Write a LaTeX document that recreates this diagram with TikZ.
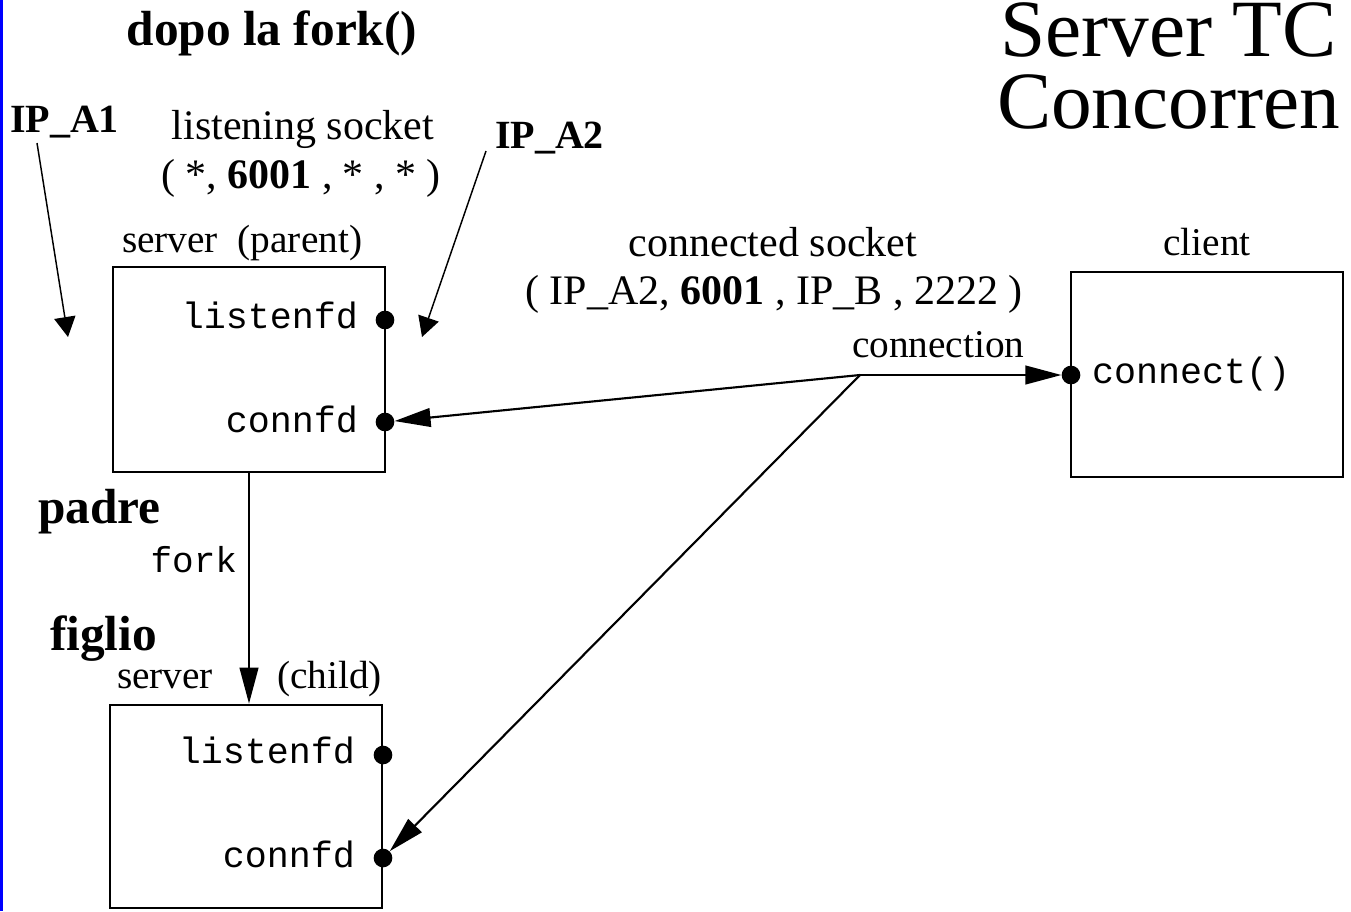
\documentclass[tikz,border=0pt]{standalone}
\usepackage{fontspec}
\setmainfont{Liberation Serif}
\setmonofont{Liberation Mono}
\usetikzlibrary{arrows.meta}

\newcommand{\fsz}[1]{\fontsize{#1}{#1}\selectfont}

\tikzset{
  txt/.style={inner sep=0pt, outer sep=0pt},
  title/.style={txt, anchor=base west, font=\fsz{61pt}},
  heading/.style={txt, font=\fsz{37pt}\bfseries},
  iplabel/.style={txt, anchor=base west, font=\fsz{30pt}\bfseries},
  sock/.style={txt, anchor=base, font=\fsz{31.5pt}},
  proc/.style={txt, font=\fsz{29.5pt}},
  code/.style={txt, anchor=base east, font=\fsz{27.5pt}\ttfamily},
  procbox/.style={draw, line width=2pt, minimum width=204pt, minimum height=153.75pt, inner sep=0pt},
  fd/.style={circle, fill=black, inner sep=0pt, minimum size=14pt},
  bigtip/.style={line width=1.6pt, -{Triangle[length=27pt,width=14pt]}},
  smalltip/.style={line width=1.1pt, -{Triangle[length=15pt,width=16pt]}}
}

\begin{document}
\begin{tikzpicture}[x=0.75pt, y=-0.75pt]
  \useasboundingbox (0,0) rectangle (1351,911);
  \fill[white] (0,0) rectangle (1351,911);
  % blue rule along the left edge
  \fill[blue] (0,0) rectangle (2.5,911);

  % title
  \node[title] (t1) at (1000,56) {Server TC};
  \node[title] (t2) at (997,128) {Concorren};

  \node[heading, anchor=base] (dopo) at (272,45) {dopo la fork()};

  % listening socket
  \node[iplabel] (ipa1) at (10,132) {IP\_A1};
  \node[iplabel] (ipa2) at (495,148) {IP\_A2};
  \node[sock] (lsock) at (303,139) {listening socket};
  \node[sock] (ltuple) at (301,188) {( *, \textbf{6001} , * , * )};

  % parent server
  \node[proc, anchor=base west] (parlbl) at (122,252) {server\ \ (parent)};
  \node[procbox] (parent) at (249,369.5) {};
  \node[fd] (plisten) at (385,320) {};
  \node[fd] (pconn) at (385,422) {};
  \node[code] (plt) at (358,328) {listenfd};
  \node[code] (pct) at (358,432) {connfd};

  \coordinate (a1s) at (37,143);
  \coordinate (a1e) at (68,337);
  \coordinate (a2s) at (486,151);
  \coordinate (a2e) at (422,337);
  \draw[smalltip] (a1s) -- (a1e);
  \draw[smalltip] (a2s) -- (a2e);

  % connected socket
  \node[sock] (csock) at (773,256) {connected socket};
  \node[sock] (ctuple) at (774,304) {( IP\_A2, \textbf{6001} , IP\_B , 2222 )};

  % client
  \node[proc, anchor=base] (clilbl) at (1207,255) {client};
  \node[procbox] (client) at (1207,374.5) {};
  \node[fd] (cconn) at (1071,375) {};
  \node[txt, anchor=base west, font=\fsz{27.5pt}\ttfamily] (cct) at (1092,383) {connect()};

  % connection
  \node[proc, anchor=base west] (connlbl) at (852,357) {connection};
  \coordinate (j) at (860,375);

  % parent / child labels
  \node[heading, anchor=base west] (padre) at (38,523) {padre};
  \node[heading, anchor=base west] (figlio) at (50,650) {figlio};
  \node[code, font=\fsz{27pt}\ttfamily] (forklbl) at (237,572) {fork};

  % child server
  \node[proc, anchor=base west] (chl1) at (117,688) {server};
  \node[proc, anchor=base west] (chl2) at (277,688) {(child)};
  \node[procbox, minimum height=152.25pt] (child) at (246,806.5) {};
  \node[fd] (clisten) at (383,755) {};
  \node[fd] (cconnfd) at (383,858) {};
  \node[code] (clt) at (355,763) {listenfd};
  \node[code] (cct2) at (355,867) {connfd};

  % connectors
  \draw[bigtip] (parent.south) -- (parent.south |- child.north);
  \draw[bigtip] (j) -- (cconn);
  \draw[bigtip] (j) -- (pconn);
  \draw[bigtip] (j) -- (cconnfd);
\end{tikzpicture}
\end{document}
